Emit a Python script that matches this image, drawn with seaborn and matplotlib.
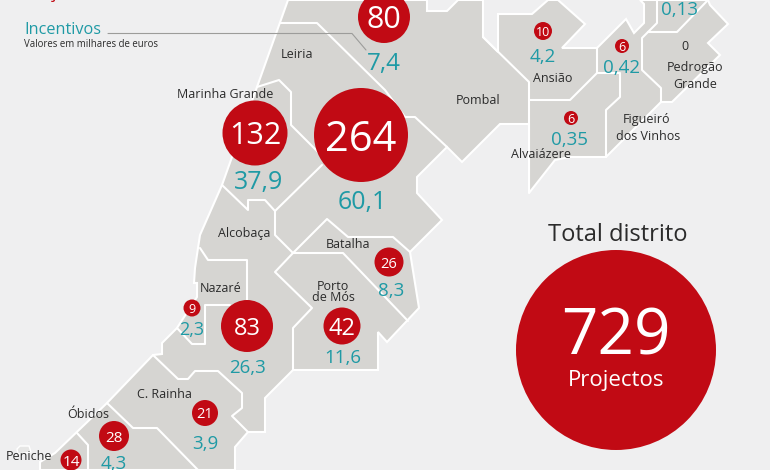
# -*- coding: utf-8 -*-
"""
Projectos e incentivos por concelho, distrito de Leiria
"""

import pandas as pd
import matplotlib.pyplot as plt
import seaborn as sns

# Style settings
sns.set(style="white", color_codes=True)
plt.rcParams['font.family'] = ['Open Sans', 'DejaVu Sans']

# Colours
back = '#efeff0'
land = '#d6d5d2'
red = '#c10a14'
teal = '#1f9aa5'
dark = '#2b2b2b'

# -----------------------------
# Map outlines (picture pixels)
# -----------------------------

district = [(288, 0), (427, 0), (427, 11), (447, 11), (458, 0), (483, 0), (483, 37), (498, 52),
            (498, 14), (532, 14), (548, 0), (558, 0), (585, 24), (562, 48), (597, 48), (626, 19),
            (634, 33), (644, 23), (644, 4), (640, 0), (708, 0), (710, 5), (728, 24), (708, 43),
            (720, 55), (672, 102), (661, 102), (606, 157), (570, 157), (555, 160), (529, 193),
            (529, 124), (500, 124), (462, 162), (447, 147), (417, 177), (417, 193), (442, 220),
            (410, 252), (419, 308), (387, 342), (378, 332), (378, 370), (293, 370), (265, 398),
            (265, 432), (248, 432), (235, 447), (235, 470), (40, 470), (40, 462), (55, 453),
            (107, 403), (153, 355), (162, 354), (162, 343), (177, 328), (197, 297), (197, 283),
            (194, 283), (195, 268), (198, 248), (200, 235), (222, 185), (257, 87)]

borders = [
    [(280, 23), (317, 23), (385, 90), (405, 117), (415, 117), (447, 147)],  # Leiria / Pombal
    [(257, 87), (279, 80), (291, 92), (291, 125), (322, 156)],  # Marinha Grande
    [(222, 185), (248, 210), (248, 200), (265, 200), (275, 211), (322, 165)],
    [(275, 211), (275, 235), (293, 253), (327, 219), (348, 237), (393, 237), (410, 252)],
    [(293, 253), (343, 253), (408, 321)],  # Porto de Mos
    [(293, 253), (275, 272), (312, 308), (293, 328), (293, 370)],
    [(200, 248), (208, 260), (247, 260), (247, 300)],  # Nazare
    [(230, 305), (205, 305), (205, 344), (192, 344), (177, 328)],
    [(153, 355), (178, 379), (188, 379), (195, 371), (218, 371), (242, 393), (242, 408),
     (232, 416), (248, 432)],  # C. Rainha
    [(107, 403), (133, 428), (157, 428), (198, 470)],  # Obidos
    [(77, 433), (88, 445), (88, 470)],  # Peniche
    [(483, 37), (529, 82), (529, 193)],  # Pombal
    [(529, 100), (570, 100), (597, 73), (597, 48)],  # Ansiao
    [(597, 73), (620, 73), (620, 97), (606, 110), (606, 157)],  # Alvaiazere
    [(657, 0), (657, 23), (642, 38), (642, 70), (661, 88), (661, 102)],  # Pedrogao
    [(648, 32), (677, 32), (708, 0)],
]

peniche_island = [(17, 449), (20, 446), (29, 446), (31, 452), (18, 454)]

# -----------------------------
# Data
# -----------------------------

# Projects: centre, diameter in pixels, size of the number
projects = pd.DataFrame({
    'n': [264, 132, 83, 80, 42, 28, 26, 21, 14, 10, 9, 6, 6, 729],
    'x': [361, 255, 247, 384, 342, 114, 389, 205, 71, 543, 192, 622, 571, 616],
    'y': [135, 133, 326, 17, 326, 436, 262, 413, 460, 31, 308, 46, 118, 350],
    'd': [94, 65, 52, 52, 37, 30, 29, 26, 21, 18, 17, 14, 14, 200],
    'fs': [30, 22, 17, 22, 17, 11, 10.5, 10.5, 11, 9, 9, 9, 9, 46],
})
projects['area'] = (projects['d'] * 0.72) ** 2

# Incentives
incentives = [('7,4', 384, 61, 17.5), ('37,9', 259, 179, 18), ('60,1', 362, 200, 18),
              ('26,3', 247, 366, 13.5), ('2,3', 192, 328, 13), ('11,6', 343, 356, 13.5),
              ('8,3', 391, 289, 13.5), ('3,9', 205, 442, 13.5), ('4,3', 114, 462, 13.5),
              ('4,2', 543, 55, 13.5), ('0,42', 621, 66, 13.5), ('0,35', 570, 138, 13.5),
              ('0,13', 679, 8, 13.5)]

# Place names
places = [('Leiria', 297, 55), ('Marinha Grande', 225, 95), ('Pombal', 478, 101),
          ('Ansião', 553, 79), ('Figueiró', 647, 119), ('dos Vinhos', 648, 136),
          ('Alvaiázere', 541, 155), ('0', 685, 47), ('Pedrogão', 695, 67), ('Grande', 695, 85),
          ('Alcobaça', 244, 234), ('Batalha', 348, 245), ('Porto\nde Mós', 333, 292),
          ('Nazaré', 221, 288), ('C. Rainha', 164, 394), ('Óbidos', 88, 415), ('Peniche', 29, 456)]

# -----------------------------
# Plot
# -----------------------------

plt.figure(figsize=(7.7, 4.7), facecolor=back)
plt.axes([0, 0, 1, 1], facecolor=back)

plt.fill(*zip(*district), facecolor=land, edgecolor='white', linewidth=1.5, zorder=1)
plt.fill(*zip(*peniche_island), facecolor='#e6e6e5', edgecolor='white', linewidth=1, zorder=1)
for border in borders:
    plt.plot(*zip(*border), color='white', linewidth=1.5, zorder=2)

# Leader line of the legend
plt.plot([108, 352, 366], [33.5, 33.5, 50], color='#9c9c9a', linewidth=0.8, zorder=2)

sns.scatterplot(data=projects, x='x', y='y', s=projects['area'], color=red, linewidth=0,
                legend=False, zorder=3)
plt.xlim(0, 770)
plt.ylim(470, 0)
plt.axis('off')

for n, x, y, fs in zip(projects['n'], projects['x'], projects['y'], projects['fs']):
    if n == 729:
        y = 330
    plt.text(x, y, str(n), color='white', fontsize=fs, ha='center', va='center_baseline', zorder=4)

for label, x, y, fs in incentives:
    plt.text(x, y, label, color=teal, fontsize=fs, ha='center', va='center_baseline', zorder=4)

for label, x, y in places:
    plt.text(x, y, label, color=dark, fontsize=9, ha='center', va='center', linespacing=0.75, zorder=4)

plt.text(616, 378, 'Projectos', color='white', fontsize=16, ha='center', va='center_baseline', zorder=4)
plt.text(618, 232, 'Total distrito', color=dark, fontsize=17, ha='center', va='center_baseline', zorder=4)

# Legend text on the left, the red word is cut by the top of the picture
plt.text(24, -2, 'Projectos', color=red, fontsize=12.5, ha='left', va='baseline', zorder=4)
plt.text(24, 28, 'Incentivos', color=teal, fontsize=11.7, ha='left', va='center_baseline', zorder=4)
plt.text(24, 43, 'Valores em milhares de euros', color=dark, fontsize=6.9, ha='left', va='center_baseline', zorder=4)

plt.savefig('out.png', dpi=100, facecolor=back)
plt.close()
